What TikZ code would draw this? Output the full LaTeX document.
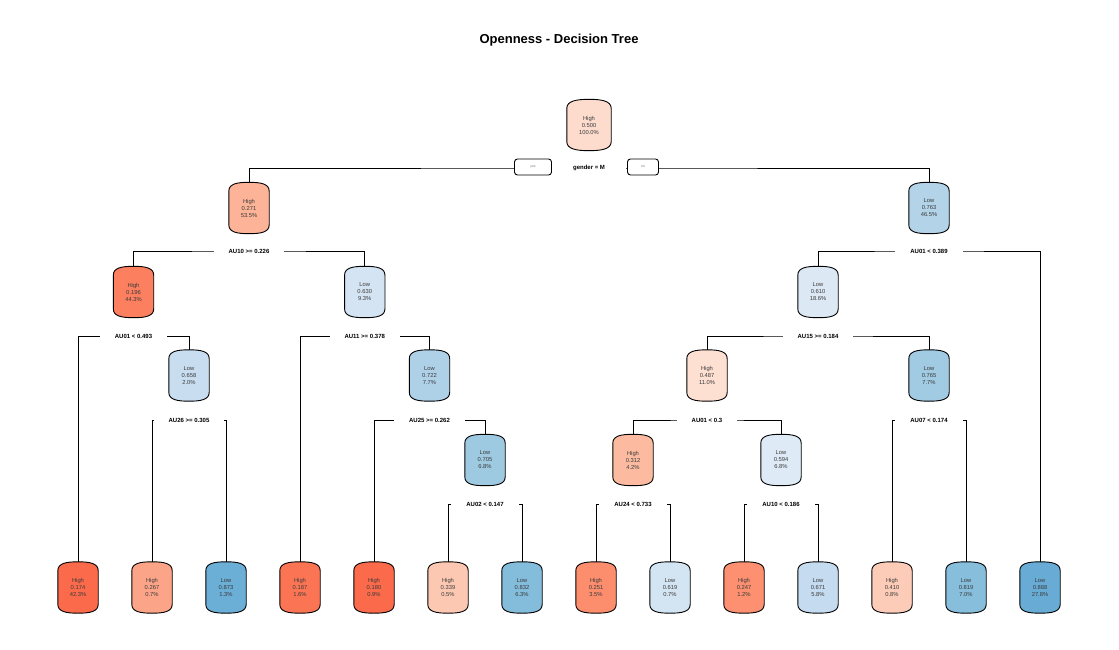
\documentclass[tikz,border=0pt]{standalone}
\usepackage{fontspec}
\setmainfont{Liberation Sans}
\usetikzlibrary{calc,backgrounds}
\definecolor{txt}{HTML}{3A3A3A}
\definecolor{croot}{HTML}{FDDCCE}
\definecolor{cA}{HTML}{FCB397}
\definecolor{cB}{HTML}{B2D3E8}
\definecolor{cAA}{HTML}{FC7F5F}
\definecolor{cAB}{HTML}{D4E4F3}
\definecolor{cBA}{HTML}{DCE9F5}
\definecolor{cAAB}{HTML}{C9DDF0}
\definecolor{cABB}{HTML}{AFD1E7}
\definecolor{cBAA}{HTML}{FDE0D2}
\definecolor{cBAB}{HTML}{A0CBE2}
\definecolor{cABBB}{HTML}{9ECAE1}
\definecolor{cBAAA}{HTML}{FCBBA1}
\definecolor{cBAAB}{HTML}{DEEBF7}
\definecolor{cL1}{HTML}{FB6A4A}
\definecolor{cL2}{HTML}{FCA487}
\definecolor{cL3}{HTML}{6BAED6}
\definecolor{cL4}{HTML}{FB7555}
\definecolor{cL5}{HTML}{FB6A4A}
\definecolor{cL6}{HTML}{FCC8B2}
\definecolor{cL7}{HTML}{84BCDB}
\definecolor{cL8}{HTML}{FC8E6E}
\definecolor{cL9}{HTML}{D3E4F3}
\definecolor{cL10}{HTML}{FC9070}
\definecolor{cL11}{HTML}{C5DBEF}
\definecolor{cL12}{HTML}{FDCCB8}
\definecolor{cL13}{HTML}{86BEDC}
\definecolor{cL14}{HTML}{68ACD5}
\tikzset{
  tn/.style={minimum width=40pt, minimum height=51pt, inner sep=0pt, align=center, text=txt, font=\fontsize{5.8}{7}\selectfont},
  splitlbl/.style={fill=white, inner xsep=15pt, inner ysep=4pt, font=\bfseries\fontsize{6}{7}\selectfont, text=black},
  conn/.style={draw=black, line width=0.9pt},
  yn/.style={draw=black, line width=0.9pt, fill=white, rounded corners=3pt, minimum height=16pt, inner sep=0pt, font=\fontsize{3.5}{4}\selectfont, text=gray},
  barrelline/.style={draw=black, line width=0.9pt}
}
\newcommand\barrel[2]{%
  \path[barrelline, fill=#2] let \p1=(#1.north west), \p2=(#1.south east), \p3=(#1.north), \p4=(#1.south) in
  (\x1,\y1-9pt) .. controls (\x1,\y1-1.5pt) and (\x3-12pt,\y3) .. (\x3,\y3)
  .. controls (\x3+12pt,\y3) and (\x2,\y1-1.5pt) .. (\x2,\y1-9pt)
  -- (\x2,\y2+9pt) .. controls (\x2,\y2+1.5pt) and (\x4+12pt,\y4) .. (\x4,\y4)
  .. controls (\x4-12pt,\y4) and (\x1,\y2+1.5pt) .. (\x1,\y2+9pt) -- cycle;%
}
\begin{document}
\begin{tikzpicture}[x=1pt,y=-1pt]
\useasboundingbox (0,0) rectangle (1119,650);
\node[font=\bfseries\fontsize{13}{15}\selectfont] (title) at (559,40) {Openness - Decision Tree};
% internal nodes
\node[tn, minimum width=44pt] (root) at (589,125) {High\\0.500\\100.0\%};
\node[tn] (A) at (249,208) {High\\0.271\\53.5\%};
\node[tn] (B) at (929,208) {Low\\0.763\\46.5\%};
\node[tn] (AA) at (133.5,292) {High\\0.196\\44.3\%};
\node[tn] (AB) at (364.75,292) {Low\\0.630\\9.3\%};
\node[tn] (BA) at (818,292) {Low\\0.610\\18.6\%};
\node[tn] (AAB) at (189,375.5) {Low\\0.658\\2.0\%};
\node[tn] (ABB) at (429.5,375.5) {Low\\0.722\\7.7\%};
\node[tn] (BAA) at (707,375.5) {High\\0.487\\11.0\%};
\node[tn] (BAB) at (929,375.5) {Low\\0.765\\7.7\%};
\node[tn] (ABBB) at (485,460) {Low\\0.705\\6.8\%};
\node[tn] (BAAA) at (633,460) {High\\0.312\\4.2\%};
\node[tn] (BAAB) at (781,460) {Low\\0.594\\6.8\%};
% leaves
\node[tn] (L1) at (78,587.5) {High\\0.174\\42.3\%};
\node[tn] (L2) at (152,587.5) {High\\0.267\\0.7\%};
\node[tn] (L3) at (226,587.5) {Low\\0.873\\1.3\%};
\node[tn] (L4) at (300,587.5) {High\\0.187\\1.6\%};
\node[tn] (L5) at (374,587.5) {High\\0.180\\0.9\%};
\node[tn] (L6) at (448,587.5) {High\\0.339\\0.5\%};
\node[tn] (L7) at (522,587.5) {Low\\0.832\\6.3\%};
\node[tn] (L8) at (596,587.5) {High\\0.251\\3.5\%};
\node[tn] (L9) at (670,587.5) {Low\\0.619\\0.7\%};
\node[tn] (L10) at (744,587.5) {High\\0.247\\1.2\%};
\node[tn] (L11) at (818,587.5) {Low\\0.671\\5.8\%};
\node[tn] (L12) at (892,587.5) {High\\0.410\\0.8\%};
\node[tn] (L13) at (966,587.5) {Low\\0.819\\7.0\%};
\node[tn] (L14) at (1040,587.5) {Low\\0.888\\27.8\%};
% split labels
\node[splitlbl, inner xsep=21pt] (s0) at (589,168) {gender = M};
\node[splitlbl] (sA) at (249,251) {AU10 >= 0.226};
\node[splitlbl] (sB) at (929,251) {AU01 < 0.389};
\node[splitlbl] (sAA) at (133.5,336) {AU01 < 0.493};
\node[splitlbl] (sAB) at (364.75,336) {AU11 >= 0.378};
\node[splitlbl] (sBA) at (818,336) {AU15 >= 0.184};
\node[splitlbl] (sAAB) at (189,420) {AU26 >= 0.305};
\node[splitlbl] (sABB) at (429.5,420) {AU25 >= 0.262};
\node[splitlbl] (sBAA) at (707,420) {AU01 < 0.3};
\node[splitlbl] (sBAB) at (929,420) {AU07 < 0.174};
\node[splitlbl] (sABBB) at (485,504) {AU02 < 0.147};
\node[splitlbl] (sBAAA) at (633,504) {AU24 < 0.733};
\node[splitlbl] (sBAAB) at (781,504) {AU10 < 0.186};
% yes / no
\node[yn, minimum width=37pt] (yes) at (533,167) {yes};
\node[yn, minimum width=31pt] (no) at (643,167) {no};
\begin{pgfonlayer}{background}
\draw[conn] (A.north) |- (s0.center) -| (B.north);
\draw[conn] (AA.north) |- (sA.center) -| (AB.north);
\draw[conn] (BA.north) |- (sB.center) -| (L14.north);
\draw[conn] (L1.north) |- (sAA.center) -| (AAB.north);
\draw[conn] (L4.north) |- (sAB.center) -| (ABB.north);
\draw[conn] (BAA.north) |- (sBA.center) -| (BAB.north);
\draw[conn] (L2.north) |- (sAAB.center) -| (L3.north);
\draw[conn] (L5.north) |- (sABB.center) -| (ABBB.north);
\draw[conn] (BAAA.north) |- (sBAA.center) -| (BAAB.north);
\draw[conn] (L12.north) |- (sBAB.center) -| (L13.north);
\draw[conn] (L6.north) |- (sABBB.center) -| (L7.north);
\draw[conn] (L8.north) |- (sBAAA.center) -| (L9.north);
\draw[conn] (L10.north) |- (sBAAB.center) -| (L11.north);
\foreach \nm in {root,A,B,AA,AB,BA,AAB,ABB,BAA,BAB,ABBB,BAAA,BAAB} {\barrel{\nm}{c\nm}}
\foreach \nm in {1,...,14} {\barrel{L\nm}{cL\nm}}
\end{pgfonlayer}
\end{tikzpicture}
\end{document}
